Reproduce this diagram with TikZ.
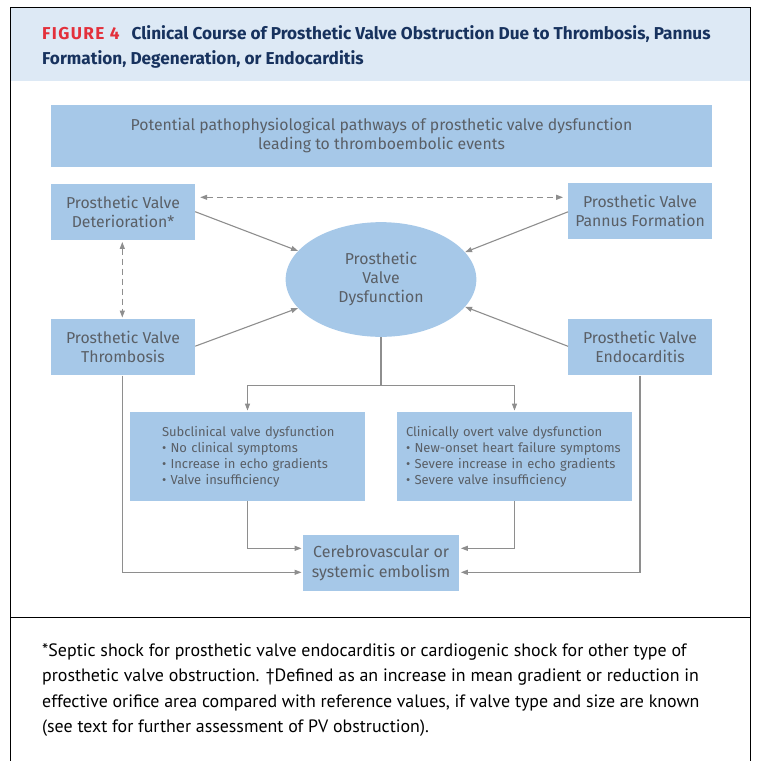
\documentclass[tikz,border=0pt]{standalone}
\usepackage{fontspec}
\setmainfont{Fira Sans}
\newfontfamily\notefont{PT Sans}
\newfontfamily\ttlfont{Fira Sans}
\usetikzlibrary{arrows.meta,shapes.geometric}
\definecolor{boxblue}{HTML}{A6C8E8}
\definecolor{hdrblue}{HTML}{DDE9F5}
\definecolor{linegray}{HTML}{8E8E8E}
\definecolor{txtgray}{HTML}{5A5F66}
\definecolor{navy}{HTML}{17325E}
\definecolor{figred}{HTML}{E3303B}
\begin{document}
\begin{tikzpicture}[x=1pt,y=-1pt,
  box/.style={fill=boxblue, draw=none, text=txtgray, align=center, inner sep=0pt,
    font=\fontsize{15.8}{19}\selectfont},
  listbox/.style={fill=boxblue, draw=none, text=txtgray, align=left, inner ysep=0pt,
    font=\fontsize{13}{16}\selectfont, minimum height=88.4pt},
  conn/.style={draw=linegray, line width=1.1pt},
  arr/.style={conn, -{Triangle[length=7pt,width=5pt]}},
  darr/.style={conn, dash pattern=on 6pt off 4pt,
    {Triangle[length=7pt,width=5pt]}-{Triangle[length=7pt,width=5pt]}},
  notetext/.style={anchor=base west, inner sep=0pt, text=black,
    font=\notefont\fontsize{17.9}{20}\selectfont},
  ttl/.style={anchor=base west, inner sep=0pt, text=navy,
    font=\ttlfont\bfseries\fontsize{17.2}{19}\selectfont}]
\useasboundingbox (0,0) rectangle (756,761);
% header and frame
\fill[hdrblue] (10.7,7.3) rectangle (750.5,80.7);
\draw[line width=1.3pt] (10.7,761) -- (10.7,7.3) -- (750.5,7.3) -- (750.5,761);
\draw[line width=1.3pt] (10.7,617.5) -- (750.5,617.5);
\node[ttl] (title1) at (42,39) {{\color{figred}\addfontfeature{LetterSpace=8}FIGURE 4}\hspace{12pt}Clinical Course of Prosthetic Valve Obstruction Due to Thrombosis, Pannus};
\node[ttl] (title2) at (42,64) {Formation, Degeneration, or Endocarditis};
% boxes
\node[box, minimum width=661pt, minimum height=61.7pt] (top) at (381.5,135.9)
  {Potential pathophysiological pathways of prosthetic valve dysfunction\\leading to thromboembolic events};
\node[box, minimum width=144pt, minimum height=56.5pt] (det) at (123,212.2)
  {Prosthetic Valve\\Deterioration*};
\node[box, minimum width=143.5pt, minimum height=56pt] (pan) at (640,211.3)
  {Prosthetic Valve\\Pannus Formation};
\node[box, minimum width=144pt, minimum height=56.3pt] (thr) at (123,347.2)
  {Prosthetic Valve\\Thrombosis};
\node[box, minimum width=143.5pt, minimum height=56pt] (endo) at (640,347.3)
  {Prosthetic Valve\\Endocarditis};
\node[box, ellipse, minimum width=190.7pt, minimum height=114.7pt] (ell) at (381,279.5)
  {Prosthetic\\Valve\\Dysfunction};
\node[listbox, inner xsep=32pt, text width=171pt] (sub) at (247.5,456.5)
  {\mbox{Subclinical valve dysfunction}\\\mbox{\textbullet\ No clinical symptoms}\\\mbox{\textbullet\ Increase in echo gradients}\\\mbox{\textbullet\ Valve insufficiency}};
\node[listbox, inner xsep=9pt, text width=217pt] (clin) at (514.5,456.5)
  {\mbox{Clinically overt valve dysfunction}\\\mbox{\textbullet\ New-onset heart failure symptoms}\\\mbox{\textbullet\ Severe increase in echo gradients}\\\mbox{\textbullet\ Severe valve insufficiency}};
\node[box, minimum width=155.7pt, minimum height=55.7pt, font=\fontsize{16}{19.6}\selectfont] (emb) at (381.2,562.9)
  {Cerebrovascular or\\systemic embolism};
% connectors
\draw[darr, shorten <=5pt, shorten >=5pt] ([yshift=14.9pt]det.east) coordinate (dl) -- (dl -| pan.west);
\draw[darr, shorten <=1.3pt, shorten >=1.3pt] ([xshift=-0.7pt]det.south) -- ([xshift=-0.7pt]thr.north);
\draw[arr] ([yshift=0.5pt]det.east) -- (ell.161.5);
\draw[arr] ([yshift=-0.5pt]pan.west) -- (ell.18.4);
\draw[arr] ([yshift=1pt]thr.east) -- (ell.199.5);
\draw[arr] ([yshift=1pt]endo.west) -- (ell.342);
\coordinate (split) at (381,385.7);
\draw[conn] (ell.south) -- (split);
\draw[arr, shorten >=1.5pt] (split) -| (sub.north);
\draw[arr, shorten >=1.5pt] (split) -| (clin.north);
\draw[arr, shorten >=1.6pt] (sub.south) |- ([yshift=14.6pt]emb.west);
\draw[arr, shorten >=1.6pt] (clin.south) |- ([yshift=14.6pt]emb.east);
\draw[arr, shorten >=1.6pt] ([xshift=-0.7pt]thr.south) |- ([yshift=-9.4pt]emb.west);
\draw[arr, shorten >=1.6pt] (endo.south) |- ([yshift=-9.4pt]emb.east);
% footnote
\node[notetext] (note1) at (42,656) {*Septic shock for prosthetic valve endocarditis or cardiogenic shock for other type of};
\node[notetext] (note2) at (42,681.5) {prosthetic valve obstruction. \textdagger Defined as an increase in mean gradient or reduction in};
\node[notetext] (note3) at (42,707) {effective orifice area compared with reference values, if valve type and size are known};
\node[notetext] (note4) at (42,732.5) {(see text for further assessment of PV obstruction).};
\end{tikzpicture}
\end{document}
